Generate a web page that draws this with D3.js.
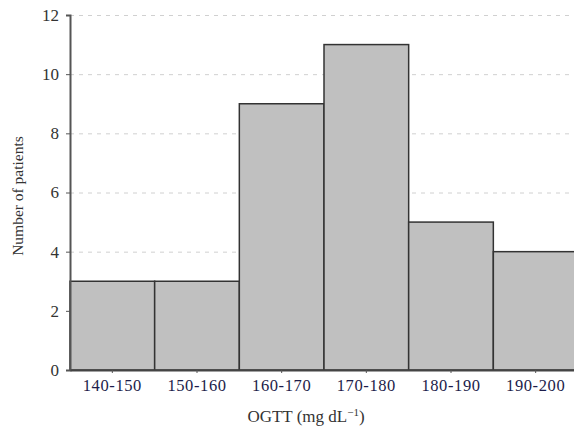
<!DOCTYPE html>
<html>
<head>
<meta charset="utf-8">
<script src="https://cdn.jsdelivr.net/npm/d3@7"></script>
<style>
  body { margin: 0; background: #fff; }
  svg { display: block; }
</style>
</head>
<body>
<svg id="chart" width="574" height="427"></svg>
<script>
// histogram of OGTT values
const categories = ["140-150", "150-160", "160-170", "170-180", "180-190", "190-200"];
const counts = [3, 3, 9, 11, 5, 4];
const yTicks = [0, 2, 4, 6, 8, 10, 12];

const svg = d3.select("#chart");
const margin = { top: 15, right: -4, bottom: 57, left: 70 };
const width = 574 - margin.left - margin.right;
const height = 427 - margin.top - margin.bottom;

const g = svg.append("g").attr("transform", `translate(${margin.left},${margin.top})`);

const x = d3.scaleBand().domain(categories).range([0, width]).padding(0);
const y = d3.scaleLinear().domain([0, 12]).range([height, 0]);

// dashed grid
g.selectAll(".grid")
  .data(yTicks.filter(d => d > 0))
  .enter()
  .append("line")
  .attr("x1", 0)
  .attr("x2", 574)
  .attr("y1", d => y(d) + 0.5)
  .attr("y2", d => y(d) + 0.5)
  .attr("stroke", "#d0d0d0")
  .attr("stroke-dasharray", "4,5");

// bars
g.selectAll(".bar")
  .data(counts)
  .enter()
  .append("rect")
  .attr("x", (d, i) => x(categories[i]))
  .attr("y", d => y(d))
  .attr("width", x.bandwidth())
  .attr("height", d => height - y(d))
  .attr("fill", "#c0c0c0")
  .attr("stroke", "#333")
  .attr("stroke-width", 1.5);

// y axis
const yAxis = g.append("g")
  .call(d3.axisLeft(y).tickValues(yTicks).tickSize(4).tickPadding(7));
yAxis.select(".domain").attr("stroke", "#555").attr("stroke-width", 2);
yAxis.selectAll(".tick line").attr("stroke", "#555");
yAxis.selectAll("text")
  .attr("font-family", "Liberation Serif, serif")
  .attr("font-size", 17)
  .attr("fill", "#333");

// x axis
const xAxis = g.append("g")
  .attr("transform", `translate(0,${height})`)
  .call(d3.axisBottom(x).tickSize(3).tickPadding(6).tickSizeOuter(0));
xAxis.select(".domain").attr("stroke", "#444").attr("stroke-width", 2);
xAxis.selectAll(".tick line").attr("stroke", "#555");
xAxis.selectAll("text")
  .attr("font-family", "Liberation Serif, serif")
  .attr("font-size", 16.5)
  .attr("letter-spacing", 0.6)
  .attr("fill", "#1c1c4a");

// axis titles
const xt = svg.append("text")
  .attr("x", 306)
  .attr("y", 422)
  .attr("text-anchor", "middle")
  .attr("font-family", "Liberation Serif, serif")
  .attr("font-size", 17)
  .attr("fill", "#333");
xt.append("tspan").text("OGTT (mg dL");
xt.append("tspan").attr("dy", -6).attr("font-size", 11).text("\u22121");
xt.append("tspan").attr("dy", 6).text(")");

svg.append("text")
  .attr("transform", "translate(23,196) rotate(-90)")
  .attr("text-anchor", "middle")
  .attr("font-family", "Liberation Serif, serif")
  .attr("font-size", 15.5)
  .attr("fill", "#333")
  .text("Number of patients");
</script>
</body>
</html>
